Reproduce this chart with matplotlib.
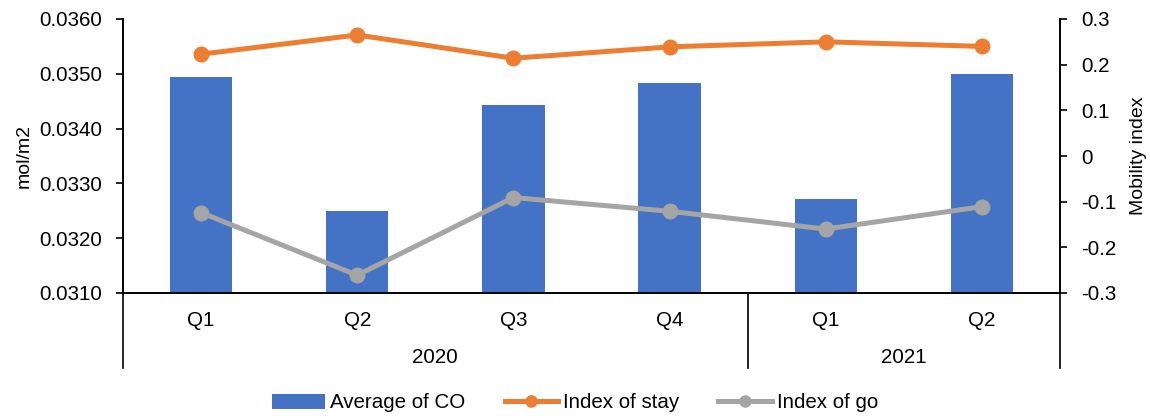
import matplotlib
matplotlib.use("Agg")
import matplotlib.pyplot as plt
import numpy as np
from matplotlib.lines import Line2D
from matplotlib.patches import Patch

plt.rcParams['font.family'] = ['Liberation Sans', 'DejaVu Sans']

quarters = ["Q1", "Q2", "Q3", "Q4", "Q1", "Q2"]
years = ["2020", "2021"]
quarters_per_year = [4, 2]
co_average = [0.03495, 0.03249, 0.03443, 0.03484, 0.03272, 0.03499]
index_stay = [0.223, 0.265, 0.214, 0.239, 0.250, 0.240]
index_go = [-0.124, -0.261, -0.091, -0.121, -0.160, -0.111]

BLUE = "#4472C4"
ORANGE = "#ED7D31"
GRAY = "#A5A5A5"
FS = 14.8

fig = plt.figure(figsize=(11.5, 4.16), dpi=100)
ax = fig.add_axes([123 / 1150, 1 - 293 / 416, (1060 - 123) / 1150, (293 - 19) / 416])
ax2 = ax.twinx()

x = np.arange(len(quarters))
ax.bar(x, co_average, width=0.4, color=BLUE, zorder=2)
ax.set_xlim(-0.5, len(quarters) - 0.5)
ax.set_ylim(0.0310, 0.0360)
ax.set_yticks(np.arange(0.0310, 0.03601, 0.0010))
ax.yaxis.set_major_formatter(matplotlib.ticker.FormatStrFormatter("%.4f"))
ax.set_ylabel("mol/m2", fontsize=14, labelpad=5)

ax2.plot(x, index_stay, color=ORANGE, lw=3.6, marker="o", ms=10.5, zorder=3)
ax2.plot(x, index_go, color=GRAY, lw=3.6, marker="o", ms=10.5, zorder=3)
ax2.set_ylim(-0.3, 0.3)
ax2.set_yticks([-0.3, -0.2, -0.1, 0, 0.1, 0.2, 0.3])
ax2.set_yticklabels(["-0.3", "-0.2", "-0.1", "0", "0.1", "0.2", "0.3"])
ax2.set_ylabel("Mobility index", fontsize=14, labelpad=10)

for a in (ax, ax2):
    a.spines["top"].set_visible(False)
    for s in ("left", "right", "bottom"):
        a.spines[s].set_linewidth(1.2)
        a.spines[s].set_color("black")

ax.tick_params(axis="y", direction="out", length=5, width=1.2, pad=10, labelsize=FS)
ax2.tick_params(axis="y", direction="out", length=5, width=1.2, pad=10, labelsize=FS)
ax.tick_params(axis="x", length=0, labelbottom=False)

# two-level category axis: quarters and years with group separators
trans = ax.get_xaxis_transform()
for xi, q in zip(x, quarters):
    ax.text(xi, -0.1, q, transform=trans, ha="center", va="center", fontsize=FS)
start = 0
bounds = [-0.5]
for yr, n in zip(years, quarters_per_year):
    mid = start + (n - 1) / 2
    ax.text(mid, -0.236, yr, transform=trans, ha="center", va="center", fontsize=FS)
    start += n
    bounds.append(start - 0.5)
for b in bounds:
    ax.plot([b, b], [0, -0.274], transform=trans, color="black", lw=1.2, clip_on=False)

handles = [
    Patch(facecolor=BLUE, edgecolor="none"),
    Line2D([], [], color=ORANGE, lw=3.6, marker="o", ms=8),
    Line2D([], [], color=GRAY, lw=3.6, marker="o", ms=8),
]
labels = ["Average of CO", "Index of stay", "Index of go"]
fig.legend(handles, labels, loc="center", bbox_to_anchor=(0.5, 1 - 403 / 416), ncol=3,
           frameon=False, fontsize=FS, handlelength=2.6, handleheight=0.75,
           handletextpad=0.25, columnspacing=1.9)

fig.savefig("out.png", dpi=100)
